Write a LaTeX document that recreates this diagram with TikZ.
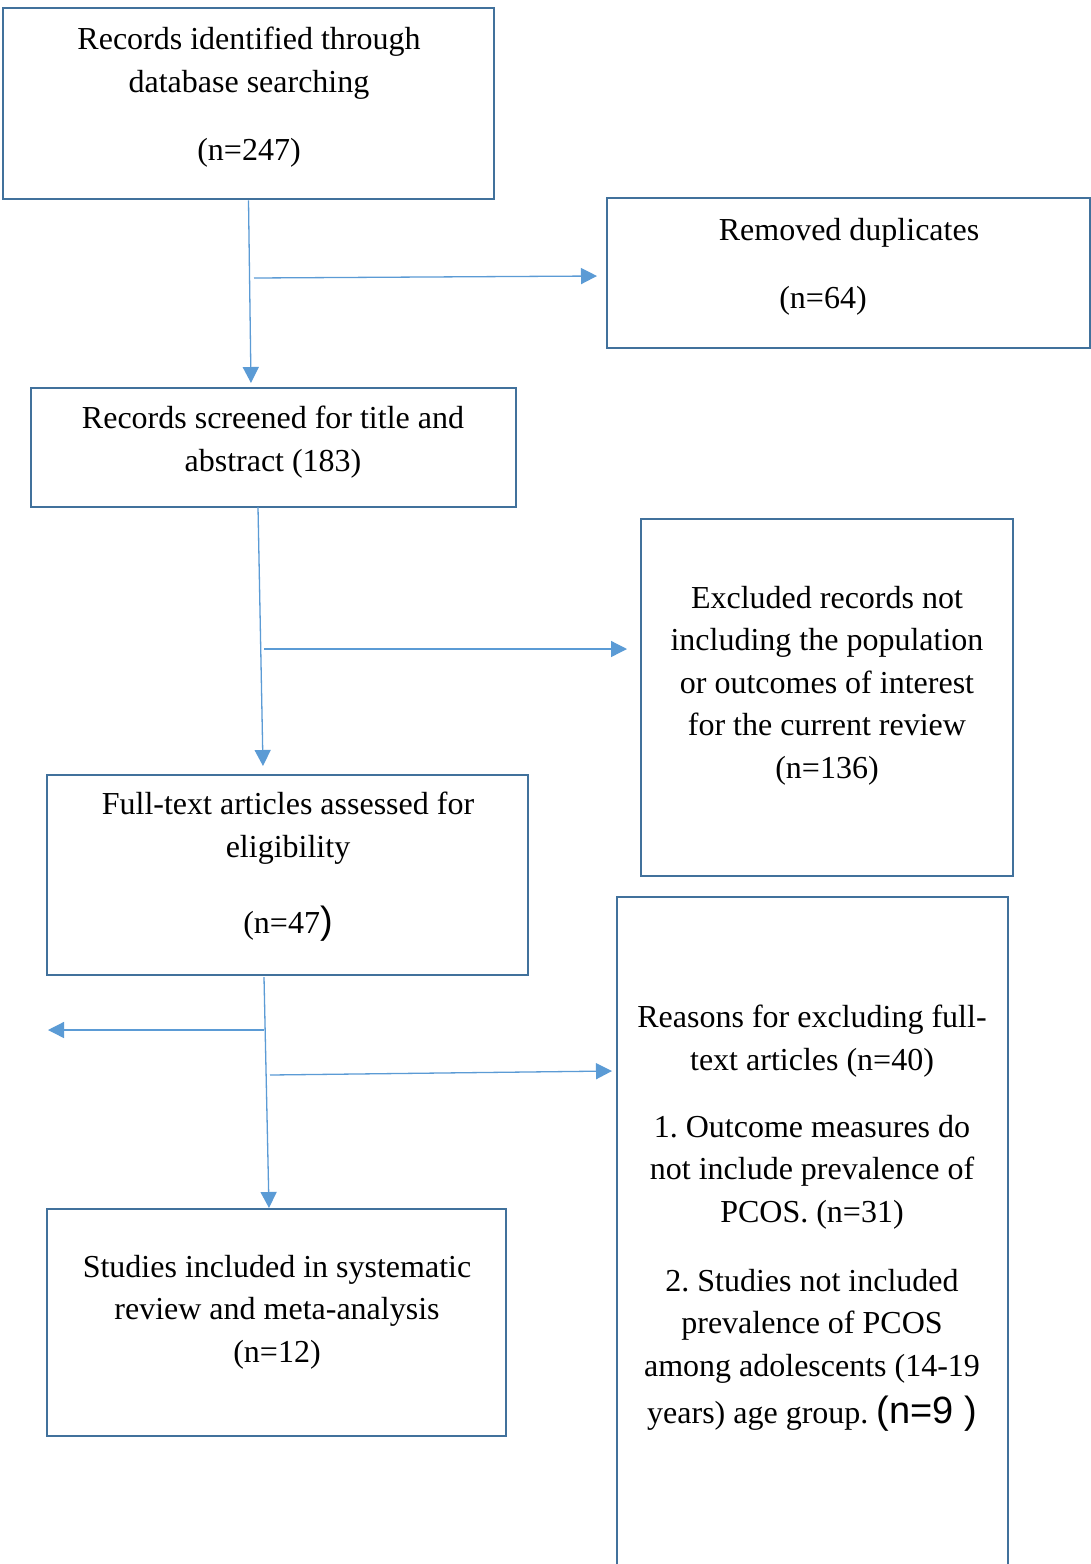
\documentclass[tikz,border=0pt]{standalone}
\usepackage{fontspec}
\setmainfont{Liberation Serif}
\newfontfamily\arialf{Liberation Sans}
\usetikzlibrary{arrows.meta,fit}
\definecolor{boxblue}{HTML}{41719C}
\definecolor{arrowblue}{HTML}{5B9BD5}
\frenchspacing
\begin{document}
\begin{tikzpicture}[x=0.5pt,y=-0.5pt,
  box/.style={draw=boxblue,line width=1.4pt,inner sep=0pt,rectangle},
  txt/.style={font=\fontsize{16}{21.25}\selectfont\frenchspacing,align=center,inner sep=0pt,anchor=base},
  arr/.style={draw=arrowblue,line width=0.65pt,-{Triangle[length=8pt,width=8pt]}}]
\clip (0,0) rectangle (1091,1564);
\fill[white] (0,0) rectangle (1091,1564);
% boxes
\node[box,fit={(3,8)(494,199)}] (A) {};
\node[box,fit={(607,198)(1090,348)}] (B) {};
\node[box,fit={(31,388)(516,507)}] (C) {};
\node[box,fit={(641,519)(1013,876)}] (D) {};
\node[box,fit={(47,775)(528,975)}] (E) {};
\node[box,fit={(617,897)(1008,1620)}] (F) {};
\node[box,fit={(47,1209)(506,1436)}] (G) {};
% texts (anchor = baseline of last line)
\node[txt] (At) at (249,92) {Records identified through\\database searching};
\node[txt] (An) at (249,160) {(n=247)};
\node[txt] (Bt) at (849,240) {Removed duplicates};
\node[txt] (Bn) at (823,308) {(n=64)};
\node[txt] (Ct) at (273,471) {Records screened for title and\\abstract (183)};
\node[txt] (Dt) at (827,778) {Excluded records not\\including the population\\or outcomes of interest\\for the current review\\(n=136)};
\node[txt] (Et) at (288,857) {Full-text articles assessed for\\eligibility};
\node[txt] (En) at (288,933) {(n=47{\arialf\fontsize{19}{21.25}\selectfont)}};
\node[txt] (Ft1) at (812,1070) {Reasons for excluding full-\\text articles (n=40)};
\node[txt] (Ft2) at (812,1222) {1. Outcome measures do\\not include prevalence of\\PCOS. (n=31)};
\node[txt] (Ft3) at (812,1423) {2. Studies not included\\prevalence of PCOS\\among adolescents (14-19\\[2.25pt]years) age group. {\arialf\fontsize{19}{21.25}\selectfont(n=9 )}};
\node[txt] (Gt) at (277,1362) {Studies included in systematic\\review and meta-analysis\\(n=12)};
% connectors
\coordinate (a1) at (251,383);
\draw[arr] (A.south) -- (a1);
\coordinate (b0) at (254,278);
\coordinate (b1) at (597,276);
\draw[arr] (b0) -- (b1);
\coordinate (c0) at (258,507);
\coordinate (c1) at (263,766);
\draw[arr] (c0) -- (c1);
\coordinate (d0) at (264,649);
\coordinate (d1) at (627,649);
\draw[arr] (d0) -- (d1);
\coordinate (e0) at (264,977);
\coordinate (e1) at (269,1208);
\draw[arr] (e0) -- (e1);
\coordinate (f0) at (264,1030);
\coordinate (f1) at (48,1030);
\draw[arr] (f0) -- (f1);
\coordinate (g0) at (270,1075);
\coordinate (g1) at (612,1071);
\draw[arr] (g0) -- (g1);
\end{tikzpicture}
\end{document}
